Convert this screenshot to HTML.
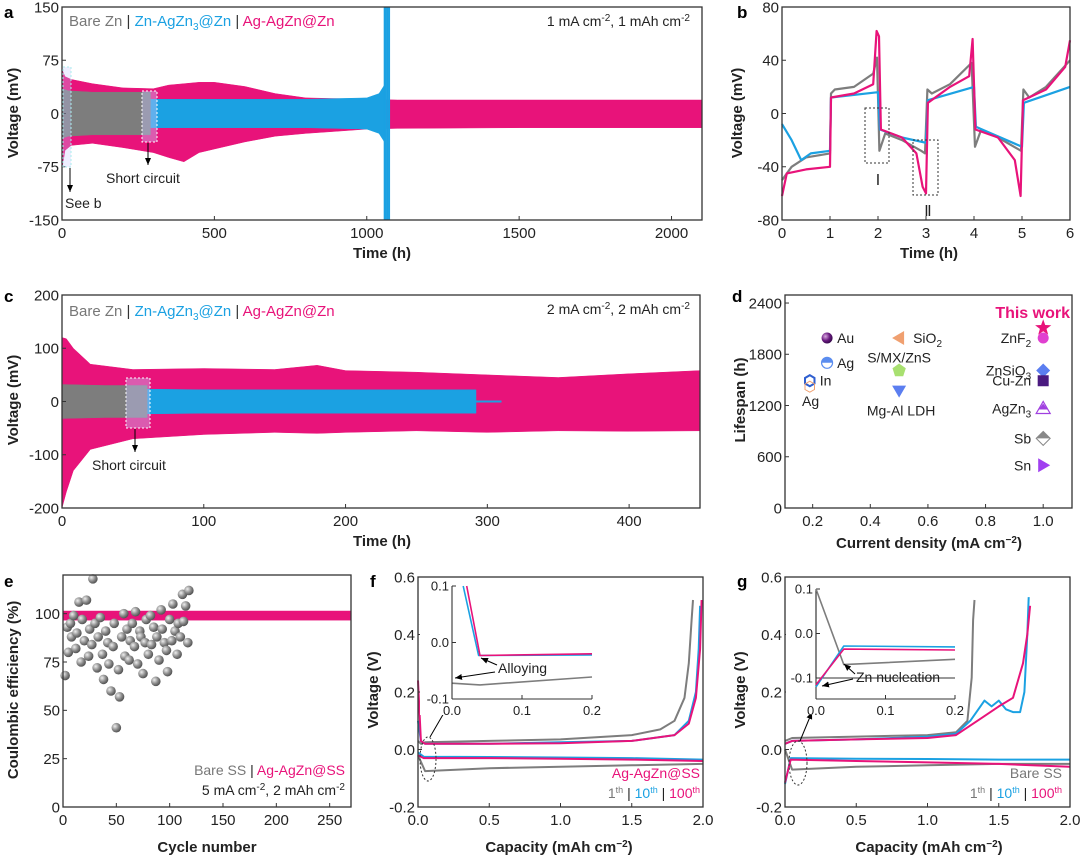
<!DOCTYPE html>
<html><head><meta charset="utf-8"><style>
html,body{margin:0;padding:0;background:#fff;}
svg{display:block;font-family:"Liberation Sans",Arial,sans-serif;}
</style></head><body>
<svg id="fig" width="1080" height="859" viewBox="0 0 1080 859" xmlns="http://www.w3.org/2000/svg">
<defs>
<radialGradient id="sph" cx="35%" cy="35%" r="65%"><stop offset="0" stop-color="#eee"/><stop offset="0.6" stop-color="#8a8a8a"/><stop offset="1" stop-color="#555"/></radialGradient>
<radialGradient id="sphp" cx="35%" cy="35%" r="65%"><stop offset="0" stop-color="#d9a8e0"/><stop offset="0.6" stop-color="#6a1a80"/><stop offset="1" stop-color="#3a0a50"/></radialGradient>
<marker id="arr" markerWidth="8" markerHeight="8" refX="7" refY="4" orient="auto"><path d="M0,1 L7,4 L0,7 Z" fill="#000"/></marker>
</defs>
</svg>
<script>
// ---------- DATA ----------
const aPink_t=[0,10,30,100,200,300,350,400,450,500,600,700,800,900,1000,1100,1500,2100];
const aPink_up=[62,52,48,42,36,35,40,42,44,44,38,28,22,21,20,19,19,19];
const aPink_lo=[-78,-52,-45,-42,-48,-55,-62,-68,-55,-50,-40,-32,-28,-25,-22,-21,-20,-20];
const aBlue_t=[0,200,400,600,800,1000,1040,1058];
const aBlue_up=[20,20,20,20,20,22,28,40];
const aBlue_lo=[-20,-20,-20,-20,-20,-22,-28,-40];
const aSpike_t=[1058,1062,1066,1070,1074];
const aSpike_v=[150,150,150,150,150];
const aGray_t=[0,20,100,200,290];
const aGray_up=[35,32,30,30,30];
const aGray_lo=[-35,-32,-30,-30,-30];
const bPink_t=[0,0.1,0.5,1,1.02,1.5,1.9,1.97,2.02,2.06,2.5,2.8,2.93,3,3.04,3.5,3.9,3.97,4.03,4.5,4.85,4.97,5.02,5.5,5.9,6];
const bPink_v=[-62,-45,-42,-40,12,15,22,62,58,-12,-18,-30,-55,-60,8,20,28,56,-12,-18,-35,-62,10,18,35,55];
const bGray_t=[0,0.2,0.5,1,1.02,1.1,1.5,1.9,1.98,2.03,2.15,2.5,2.9,2.98,3.03,3.12,3.5,3.95,4.02,4.15,4.5,4.98,5.03,5.15,5.5,6];
const bGray_v=[-50,-40,-33,-30,15,18,20,30,42,-28,-15,-20,-28,-30,18,15,22,38,-25,-12,-18,-28,18,12,20,40];
const bBlue_t=[0,0.2,0.4,0.6,1,1.02,2,2.04,2.5,3,3.04,4,4.04,5,5.04,6];
const bBlue_v=[-8,-20,-35,-30,-28,12,16,-12,-18,-22,10,20,-10,-25,8,20];
const cPink_t=[0,3,8,20,50,100,150,180,200,250,300,350,400,450];
const cPink_up=[120,118,100,70,60,62,60,68,58,55,50,45,52,58];
const cPink_lo=[-200,-170,-130,-90,-70,-62,-58,-60,-58,-55,-58,-55,-56,-55];
const cBlue_t=[0,100,200,292];
const cBlue_up=[25,22,22,22];
const cBlue_lo=[-25,-22,-22,-22];
const cBlueTail_t=[292,310];
const cBlueTail_v=[0,0];
const cGray_t=[0,30,60];
const cGray_up=[32,30,30];
const cGray_lo=[-32,-30,-30];
const dNames=["Au","Ag","In","SiO2","S/MX/ZnS","Mg-Al LDH","This work","ZnF2","ZnSiO3","Cu-Zn","AgZn3","Sb","Sn"];
const dCurrent=[0.25,0.25,0.19,0.5,0.5,0.5,1.0,1.0,1.0,1.0,1.0,1.0,1.0];
const dLife=[1990,1700,1490,1990,1610,1375,2110,1990,1610,1490,1165,815,500];
const eBare_x=[2,4,5,7,8,10,12,13,15,17,18,20,22,24,25,27,28,30,32,33,35,37,38,40,42,43,45,47,48,50,52,53,55,57,58,60,62,63,65,67,68,70,72,73,75,77,78,80,82,83,85,87,88,90,92,93,95,97,98,100,102,103,105,107,108,110,112,113,115,117,118];
const eBare_y=[68,93,80,95,88,99,82,90,106,75,97,86,107,78,92,84,118,95,72,88,98,79,66,91,85,74,60,83,95,41,71,57,88,100,78,92,76,86,95,83,101,74,91,88,69,85,97,79,99,84,93,65,88,76,102,92,85,81,70,97,86,105,91,79,95,88,110,96,104,85,112];
const eAg_x=[0,50,100,150,200,270];
const eAg_y=[99,99.3,99.4,99.3,99.2,99.2];
const fGrayC_x=[0,0.02,0.05,0.5,1.0,1.5,1.7,1.8,1.87,1.9,1.92,1.93];
const fGrayC_y=[0.03,0.02,0.025,0.03,0.035,0.05,0.07,0.1,0.18,0.3,0.45,0.52];
const fBlueC_x=[0,0.02,0.05,0.5,1,1.5,1.8,1.9,1.95,1.97,1.98];
const fBlueC_y=[0.1,0.03,0.02,0.02,0.025,0.03,0.05,0.1,0.2,0.35,0.5];
const fPinkC_x=[0,0.02,0.05,0.5,1,1.5,1.8,1.9,1.95,1.98,1.99];
const fPinkC_y=[0.24,0.03,0.02,0.02,0.022,0.03,0.05,0.09,0.18,0.35,0.52];
const fGrayD_x=[0,0.05,0.5,1,1.5,2];
const fGrayD_y=[-0.02,-0.075,-0.065,-0.06,-0.055,-0.05];
const fBlueD_x=[0,0.04,0.5,1,1.5,2];
const fBlueD_y=[-0.01,-0.025,-0.026,-0.028,-0.03,-0.035];
const fPinkD_x=[0,0.04,0.5,1,1.5,2];
const fPinkD_y=[-0.02,-0.03,-0.03,-0.032,-0.035,-0.04];
const fiPink_x=[0.021,0.04,0.2];
const fiPink_y=[0.1,-0.023,-0.02];
const fiBlue_x=[0.016,0.038,0.2];
const fiBlue_y=[0.1,-0.023,-0.022];
const fiGray_x=[0,0.04,0.2];
const fiGray_y=[-0.072,-0.075,-0.061];
const gGrayC_x=[0,0.05,0.5,1.0,1.2,1.28,1.31,1.32,1.33];
const gGrayC_y=[0.03,0.04,0.045,0.05,0.06,0.1,0.25,0.45,0.52];
const gBlueC_x=[0,0.05,0.5,1.0,1.2,1.3,1.4,1.45,1.5,1.55,1.6,1.65,1.68,1.7,1.71];
const gBlueC_y=[0.02,0.03,0.035,0.045,0.055,0.1,0.17,0.15,0.17,0.14,0.13,0.13,0.2,0.4,0.53];
const gPinkC_x=[0,0.05,0.5,1.0,1.2,1.35,1.5,1.6,1.67,1.7,1.72];
const gPinkC_y=[0.02,0.03,0.035,0.04,0.05,0.1,0.15,0.18,0.3,0.4,0.5];
const gGrayD_x=[0,0.05,0.5,1,1.5,2];
const gGrayD_y=[0.0,-0.07,-0.06,-0.055,-0.05,-0.05];
const gBlueD_x=[0,0.04,0.5,1,1.5,2];
const gBlueD_y=[-0.12,-0.03,-0.032,-0.033,-0.035,-0.035];
const gPinkD_x=[0,0.04,0.5,1,1.5,2];
const gPinkD_y=[-0.115,-0.035,-0.04,-0.045,-0.05,-0.06];
const giGray_x=[0,0.04,0.2];
const giGray_y=[0.1,-0.07,-0.058];
const giBlue_x=[0,0.04,0.2];
const giBlue_y=[-0.12,-0.028,-0.03];
const giPink_x=[0,0.04,0.2];
const giPink_y=[-0.115,-0.035,-0.037];

// ---------- helpers ----------
const NS='http://www.w3.org/2000/svg';
const svg=document.getElementById('fig');
const PINK='#e8137a',BLUE='#1ba1e2',GRAY='#7d7d7d';
function mk(tag,attrs,nm,parent){
  const e=document.createElementNS(NS,tag);
  for(const k in attrs)e.setAttribute(k,attrs[k]);
  
  
  (parent||svg).appendChild(e);return e;
}
function txt(x,y,s,nm,o){
  o=o||{};
  const e=mk('text',{x:x,y:y,'font-size':o.fs||15,fill:o.fill||'#222','text-anchor':o.anchor||'start','font-weight':o.fw||'normal'},nm);
  if(o.rot)e.setAttribute('transform','rotate(-90 '+x+' '+y+')');
  e.innerHTML=s;return e;
}
function panel(x0,x1,y0,y1,xd,yd){
  return {x0,x1,y0,y1,sx:v=>x0+(v-xd[0])/(xd[1]-xd[0])*(x1-x0),sy:v=>y1-(v-yd[0])/(yd[1]-yd[0])*(y1-y0)};
}
function frame(p,xt,yt,xf,yf,nm,opt){
  opt=opt||{};
  const g=mk('g',{},nm+'-axes');
  if(!opt.open) mk('rect',{x:p.x0,y:p.y0,width:p.x1-p.x0,height:p.y1-p.y0,fill:'none',stroke:'#333','stroke-width':1.3},nm+'-frame',g);
  else{
    mk('line',{x1:p.x0,y1:p.y0,x2:p.x0,y2:p.y1,stroke:'#333','stroke-width':1.1},nm+'-y-axis-line',g);
    mk('line',{x1:p.x0,y1:p.y1,x2:p.x1,y2:p.y1,stroke:'#333','stroke-width':1.1},nm+'-x-axis-line',g);
  }
  const fs=opt.fs||15;
  xt.forEach(v=>{const x=p.sx(v);
    mk('line',{x1:x,y1:p.y1,x2:x,y2:p.y1-4,stroke:'#333'},nm+'-x-tick',g);
    txt(x,p.y1+fs+3,xf(v),nm+'-x-tick-label',{anchor:'middle',fs:fs});});
  yt.forEach(v=>{const y=p.sy(v);
    mk('line',{x1:p.x0,y1:y,x2:p.x0+4,y2:y,stroke:'#333'},nm+'-y-tick',g);
    txt(p.x0-3,y+fs*0.35,yf(v),nm+'-y-tick-label',{anchor:'end',fs:fs});});
}
function line(p,xs,ys,c,w,nm){
  const d=xs.map((x,i)=>(i?'L':'M')+p.sx(x).toFixed(1)+','+p.sy(ys[i]).toFixed(1)).join('');
  return mk('path',{d:d,fill:'none',stroke:c,'stroke-width':w,'stroke-linejoin':'round'},nm);
}
function env(p,t,up,lo,c,nm){
  let d=t.map((x,i)=>(i?'L':'M')+p.sx(x).toFixed(1)+','+p.sy(up[i]).toFixed(1)).join('');
  for(let i=t.length-1;i>=0;i--)d+='L'+p.sx(t[i]).toFixed(1)+','+p.sy(lo[i]).toFixed(1);
  return mk('path',{d:d+'Z',fill:c,stroke:c,'stroke-width':0.5},nm);
}
const I=v=>String(v), F1=v=>v.toFixed(1);
const LEG='<tspan fill="#777">Bare Zn</tspan><tspan fill="#333"> | </tspan><tspan fill="'+BLUE+'">Zn-AgZn<tspan font-size="10" dy="4">3</tspan><tspan dy="-4">@Zn</tspan></tspan><tspan fill="#333"> | </tspan><tspan fill="'+PINK+'">Ag-AgZn@Zn</tspan>';

// ---------- panel a ----------
const A=panel(62,702,7,220,[0,2100],[-150,150]);
env(A,aPink_t,aPink_up,aPink_lo,PINK,'ag-agzn-zn-voltage-a');
env(A,aBlue_t,aBlue_up,aBlue_lo,BLUE,'zn-agzn3-zn-voltage-a');
aSpike_t.forEach((t,i)=>{
  mk('line',{x1:A.sx(t),y1:A.sy(aSpike_v[i]),x2:A.sx(t),y2:A.sy(-aSpike_v[i]),stroke:BLUE,'stroke-width':1.5},'zn-agzn3-failure-spike');
});
env(A,aGray_t,aGray_up,aGray_lo,GRAY,'bare-zn-voltage-a');
frame(A,[0,500,1000,1500,2000],[-150,-75,0,75,150],I,I,'panel-a');
mk('rect',{x:63,y:67,width:8,height:100,fill:'rgba(200,200,255,0.3)',stroke:'#aee','stroke-dasharray':'2,2'},'see-b-box');
mk('rect',{x:142,y:91,width:15,height:51,fill:'rgba(200,200,255,0.4)',stroke:'#fff','stroke-dasharray':'2,2'},'short-circuit-box-a');
mk('line',{x1:70,y1:168,x2:70,y2:192,stroke:'#000','marker-end':'url(#arr)'},'see-b-arrow');
mk('line',{x1:148,y1:143,x2:148,y2:165,stroke:'#000','marker-end':'url(#arr)'},'short-circuit-arrow-a');
txt(65,208,'See b','see-b-label',{fs:14});
txt(106,183,'Short circuit','short-circuit-label-a',{fs:14});
txt(69,26,LEG,'legend-a',{fs:15});
txt(690,26,'1 mA cm<tspan font-size="10" dy="-5">-2</tspan><tspan dy="5">, 1 mAh cm</tspan><tspan font-size="10" dy="-5">-2</tspan>','condition-a',{anchor:'end',fs:14});
txt(18,113,'Voltage (mV)','y-axis-title-a',{rot:1,anchor:'middle',fw:'bold',fs:15});
txt(382,258,'Time (h)','x-axis-title-a',{anchor:'middle',fw:'bold',fs:15});
txt(4,18,'a','panel-label-a',{fw:'bold',fs:17,fill:'#000'});

// ---------- panel b ----------
const B=panel(782,1070,7,220,[0,6],[-80,80]);
line(B,bGray_t,bGray_v,GRAY,2.2,'bare-zn-curve-b');
line(B,bBlue_t,bBlue_v,BLUE,2.2,'zn-agzn3-curve-b');
line(B,bPink_t,bPink_v,PINK,2.2,'ag-agzn-curve-b');
frame(B,[0,1,2,3,4,5,6],[-80,-40,0,40,80],I,I,'panel-b');
mk('rect',{x:865,y:108,width:24,height:55,fill:'none',stroke:'#333','stroke-dasharray':'2,2'},'region-i-box');
mk('rect',{x:913,y:140,width:25,height:55,fill:'none',stroke:'#333','stroke-dasharray':'2,2'},'region-ii-box');
txt(878,185,'Ⅰ','region-i-label',{anchor:'middle',fs:15});
txt(928,216,'Ⅱ','region-ii-label',{anchor:'middle',fs:15});
txt(742,113,'Voltage (mV)','y-axis-title-b',{rot:1,anchor:'middle',fw:'bold',fs:15});
txt(929,258,'Time (h)','x-axis-title-b',{anchor:'middle',fw:'bold',fs:15});
txt(737,18,'b','panel-label-b',{fw:'bold',fs:17,fill:'#000'});

// ---------- panel c ----------
const C=panel(62,700,295,508,[0,450],[-200,200]);
env(C,cPink_t,cPink_up,cPink_lo,PINK,'ag-agzn-zn-voltage-c');
env(C,cBlue_t,cBlue_up,cBlue_lo,BLUE,'zn-agzn3-zn-voltage-c');
line(C,cBlueTail_t,cBlueTail_v,BLUE,2,'zn-agzn3-tail-c');
env(C,cGray_t,cGray_up,cGray_lo,GRAY,'bare-zn-voltage-c');
frame(C,[0,100,200,300,400],[-200,-100,0,100,200],I,I,'panel-c');
mk('rect',{x:126,y:378,width:24,height:50,fill:'rgba(200,200,255,0.4)',stroke:'#fff','stroke-dasharray':'2,2'},'short-circuit-box-c');
mk('line',{x1:135,y1:429,x2:135,y2:452,stroke:'#000','marker-end':'url(#arr)'},'short-circuit-arrow-c');
txt(92,470,'Short circuit','short-circuit-label-c',{fs:14});
txt(69,316,LEG,'legend-c',{fs:15});
txt(690,314,'2 mA cm<tspan font-size="10" dy="-5">-2</tspan><tspan dy="5">, 2 mAh cm</tspan><tspan font-size="10" dy="-5">-2</tspan>','condition-c',{anchor:'end',fs:14});
txt(18,400,'Voltage (mV)','y-axis-title-c',{rot:1,anchor:'middle',fw:'bold',fs:15});
txt(382,546,'Time (h)','x-axis-title-c',{anchor:'middle',fw:'bold',fs:15});
txt(4,302,'c','panel-label-c',{fw:'bold',fs:17,fill:'#000'});

// ---------- panel d ----------
const D=panel(785,1072,295,508,[0.104,1.1],[0,2494]);
frame(D,[0.2,0.4,0.6,0.8,1.0],[0,600,1200,1800,2400],F1,I,'panel-d');
const dStyle=[
 ['sphere','url(#sphp)','start',10],['half','#5b8def','start',10],['hex','#2f5fd0','start',10],
 ['triL','#f0a070','start',14],['pent','#a8e070','middle',-8],['triD','#5b7ef0','middle',18],
 ['star',PINK,'end',-12],['circle','#e040d0','end',-12],['diamond','#5b7ef0','end',-12],
 ['square','#4a1a80','end',-12],['triU','#a040e0','end',-12],['diamondG','#888','end',-12],['triR','#a040f0','end',-12]];
const dLabels=['Au','Ag','In','SiO<tspan font-size="10" dy="4">2</tspan>','S/MX/ZnS','Mg-Al LDH','','ZnF<tspan font-size="10" dy="4">2</tspan>','ZnSiO<tspan font-size="10" dy="4">3</tspan>','Cu-Zn','AgZn<tspan font-size="10" dy="4">3</tspan>','Sb','Sn'];
dNames.forEach((n,i)=>{
  const x=D.sx(dCurrent[i]),y=D.sy(dLife[i]),s=dStyle[i],c=s[1];
  const nm='marker-'+n.toLowerCase().replace(/[^a-z0-9]+/g,'-');
  if(s[0]==='sphere'||s[0]==='circle') mk('circle',{cx:x,cy:y,r:5.5,fill:c},nm);
  else if(s[0]==='half'){mk('circle',{cx:x,cy:y,r:5.5,fill:'#fff',stroke:c,'stroke-width':1.2},nm);mk('path',{d:`M${x-5.5},${y}A5.5,5.5 0 0 1 ${x+5.5},${y}Z`,fill:c},nm+'-fill');}
  else if(s[0]==='hex'){const pts=[0,1,2,3,4,5].map(k=>(x+5.5*Math.cos(Math.PI/6+k*Math.PI/3)).toFixed(1)+','+(y+5.5*Math.sin(Math.PI/6+k*Math.PI/3)).toFixed(1)).join(' ');mk('polygon',{points:pts,fill:'none',stroke:c,'stroke-width':2},nm);
    const pts2=[0,1,2,3,4,5].map(k=>(x+5.5*Math.cos(Math.PI/6+k*Math.PI/3)).toFixed(1)+','+(y+6+5.5*Math.sin(Math.PI/6+k*Math.PI/3)).toFixed(1)).join(' ');mk('polygon',{points:pts2,fill:'none',stroke:'#f0a070','stroke-width':1},'marker-ag-hex');}
  else if(s[0]==='triL') mk('polygon',{points:`${x-7},${y} ${x+5},${y-7} ${x+5},${y+7}`,fill:c},nm);
  else if(s[0]==='triR') mk('polygon',{points:`${x+7},${y} ${x-5},${y-7} ${x-5},${y+7}`,fill:c},nm);
  else if(s[0]==='triD') mk('polygon',{points:`${x-7},${y-5} ${x+7},${y-5} ${x},${y+7}`,fill:c},nm);
  else if(s[0]==='triU'){mk('polygon',{points:`${x-7},${y+5} ${x+7},${y+5} ${x},${y-7}`,fill:'#fff',stroke:c,'stroke-width':1.2},nm);mk('polygon',{points:`${x-4.5},${y+1} ${x+4.5},${y+1} ${x},${y-5}`,fill:c},nm+'-fill');}
  else if(s[0]==='pent'){const pts=[0,1,2,3,4].map(k=>(x+7*Math.cos(-Math.PI/2+k*2*Math.PI/5)).toFixed(1)+','+(y+7*Math.sin(-Math.PI/2+k*2*Math.PI/5)).toFixed(1)).join(' ');mk('polygon',{points:pts,fill:c},nm);}
  else if(s[0]==='star'){const pts=[];for(let k=0;k<10;k++){const r=k%2?3.5:8.5,a=-Math.PI/2+k*Math.PI/5;pts.push((x+r*Math.cos(a)).toFixed(1)+','+(y+r*Math.sin(a)).toFixed(1));}mk('polygon',{points:pts.join(' '),fill:c},nm);}
  else if(s[0]==='diamond') mk('polygon',{points:`${x},${y-7} ${x+7},${y} ${x},${y+7} ${x-7},${y}`,fill:c},nm);
  else if(s[0]==='diamondG'){mk('polygon',{points:`${x},${y-7} ${x+7},${y} ${x},${y+7} ${x-7},${y}`,fill:'#fff',stroke:c},nm);mk('polygon',{points:`${x},${y-7} ${x+7},${y} ${x-7},${y}`,fill:c},nm+'-fill');}
  else if(s[0]==='square') mk('rect',{x:x-5.5,y:y-5.5,width:11,height:11,fill:c},nm);
  if(dLabels[i]){
    let lx=x+s[3],ly=y+5;
    if(s[0]==='pent'){lx=x;ly=y-8;} if(s[0]==='triD'){lx=x+2;ly=y+25;}
    txt(lx,ly,dLabels[i],'label-'+nm.slice(7),{anchor:s[2],fs:14});
  }
});
txt(802,406,'Ag','label-ag-hexagon',{fs:14});
txt(1070,318,'This work','this-work-label',{anchor:'end',fw:'bold',fs:16,fill:PINK});
txt(745,400,'Lifespan (h)','y-axis-title-d',{rot:1,anchor:'middle',fw:'bold',fs:15});
txt(929,548,'Current density (mA cm<tspan font-size="10" dy="-5">−2</tspan><tspan dy="5">)</tspan>','x-axis-title-d',{anchor:'middle',fw:'bold',fs:15});
txt(732,302,'d','panel-label-d',{fw:'bold',fs:17,fill:'#000'});

// ---------- panel e ----------
const E=panel(63,351,575,807,[0,270],[0,120]);
mk('rect',{x:E.sx(0),y:E.sy(101.5),width:E.sx(270)-E.sx(0),height:E.sy(96.5)-E.sy(101.5),fill:PINK},'ag-agzn-ss-band');
line(E,eAg_x,eAg_y,PINK,3,'ag-agzn-ss-ce');
eBare_x.forEach((x,i)=>{
  mk('circle',{cx:E.sx(x),cy:E.sy(eBare_y[i]),r:4.8,fill:'url(#sph)'},'bare-ss-ce-point');
});
frame(E,[0,50,100,150,200,250],[0,25,50,75,100],I,I,'panel-e');
txt(345,775,'<tspan fill="#777">Bare SS</tspan> | <tspan fill="'+PINK+'">Ag-AgZn@SS</tspan>','legend-e',{anchor:'end',fs:14});
txt(345,795,'5 mA cm<tspan font-size="10" dy="-5">-2</tspan><tspan dy="5">, 2 mAh cm</tspan><tspan font-size="10" dy="-5">-2</tspan>','condition-e',{anchor:'end',fs:14});
txt(18,690,'Coulombic efficiency (%)','y-axis-title-e',{rot:1,anchor:'middle',fw:'bold',fs:15});
txt(207,852,'Cycle number','x-axis-title-e',{anchor:'middle',fw:'bold',fs:15});
txt(4,587,'e','panel-label-e',{fw:'bold',fs:17,fill:'#000'});

// ---------- panel f ----------
const Fp=panel(418,703,577,807,[0,2],[-0.2,0.6]);
line(Fp,fGrayD_x,fGrayD_y,GRAY,2,'bare-discharge-f');
line(Fp,fBlueD_x,fBlueD_y,BLUE,2,'10th-discharge-f');
line(Fp,fPinkD_x,fPinkD_y,PINK,2,'100th-discharge-f');
line(Fp,fGrayC_x,fGrayC_y,GRAY,2,'1th-charge-f');
line(Fp,fBlueC_x,fBlueC_y,BLUE,2,'10th-charge-f');
line(Fp,fPinkC_x,fPinkC_y,PINK,2,'100th-charge-f');
frame(Fp,[0,0.5,1,1.5,2],[-0.2,0,0.2,0.4,0.6],F1,F1,'panel-f');
mk('ellipse',{cx:428,cy:759,rx:8,ry:22,fill:'none',stroke:'#333','stroke-dasharray':'2,2'},'zoom-ellipse-f');
mk('line',{x1:430,y1:737,x2:448,y2:706,stroke:'#000','marker-end':'url(#arr)'},'zoom-arrow-f');
const FI=panel(452,592,586,699,[0,0.2],[-0.1,0.1]);
mk('rect',{x:420,y:580,width:175,height:135,fill:'#fff'},'inset-bg-f');
line(FI,fiGray_x,fiGray_y,GRAY,1.6,'inset-1th-f');
line(FI,fiBlue_x,fiBlue_y,BLUE,1.6,'inset-10th-f');
line(FI,fiPink_x,fiPink_y,PINK,1.6,'inset-100th-f');
frame(FI,[0,0.1,0.2],[-0.1,0,0.1],F1,F1,'inset-f',{open:1,fs:13});
txt(498,673,'Alloying','alloying-label',{fs:14});
mk('line',{x1:497,y1:665,x2:481,y2:658,stroke:'#000','marker-end':'url(#arr)'},'alloying-arrow-1');
mk('line',{x1:495,y1:672,x2:455,y2:678,stroke:'#000','marker-end':'url(#arr)'},'alloying-arrow-2');
txt(700,778,'Ag-AgZn@SS','sample-label-f',{anchor:'end',fs:14,fill:PINK});
txt(700,798,'<tspan fill="#777">1<tspan font-size="9" dy="-5">th</tspan></tspan><tspan dy="5"> | </tspan><tspan fill="'+BLUE+'">10<tspan font-size="9" dy="-5">th</tspan></tspan><tspan dy="5"> | </tspan><tspan fill="'+PINK+'">100<tspan font-size="9" dy="-5">th</tspan></tspan>','cycle-legend-f',{anchor:'end',fs:14});
txt(378,690,'Voltage (V)','y-axis-title-f',{rot:1,anchor:'middle',fw:'bold',fs:15});
txt(559,852,'Capacity (mAh cm<tspan font-size="10" dy="-5">−2</tspan><tspan dy="5">)</tspan>','x-axis-title-f',{anchor:'middle',fw:'bold',fs:15});
txt(370,587,'f','panel-label-f',{fw:'bold',fs:17,fill:'#000'});

// ---------- panel g ----------
const G=panel(785,1070,577,807,[0,2],[-0.2,0.6]);
line(G,gGrayD_x,gGrayD_y,GRAY,2,'bare-discharge-g');
line(G,gBlueD_x,gBlueD_y,BLUE,2,'10th-discharge-g');
line(G,gPinkD_x,gPinkD_y,PINK,2,'100th-discharge-g');
line(G,gGrayC_x,gGrayC_y,GRAY,2,'1th-charge-g');
line(G,gBlueC_x,gBlueC_y,BLUE,2,'10th-charge-g');
line(G,gPinkC_x,gPinkC_y,PINK,2,'100th-charge-g');
frame(G,[0,0.5,1,1.5,2],[-0.2,0,0.2,0.4,0.6],F1,F1,'panel-g');
mk('ellipse',{cx:798,cy:763,rx:9,ry:22,fill:'none',stroke:'#333','stroke-dasharray':'2,2'},'zoom-ellipse-g');
mk('line',{x1:800,y1:741,x2:812,y2:712,stroke:'#000','marker-end':'url(#arr)'},'zoom-arrow-g');
const GI=panel(816,955,589,678,[0,0.2],[-0.1,0.1]);
mk('rect',{x:786,y:580,width:172,height:135,fill:'#fff'},'inset-bg-g');
frame(panel(816,955,589,699,[0,0.2],[-0.148,0.1]),[0,0.1,0.2],[],F1,F1,'inset-g-x',{open:1,fs:13});
frame(GI,[],[-0.1,0,0.1],F1,F1,'inset-g-y',{open:1,fs:13});
line(GI,giGray_x,giGray_y,GRAY,1.6,'inset-1th-g');
line(GI,giBlue_x,giBlue_y,BLUE,1.6,'inset-10th-g');
line(GI,giPink_x,giPink_y,PINK,1.6,'inset-100th-g');
txt(856,682,'Zn nucleation','zn-nucleation-label',{fs:14});
mk('line',{x1:855,y1:674,x2:844,y2:664,stroke:'#000','marker-end':'url(#arr)'},'nucleation-arrow-1');
mk('line',{x1:853,y1:679,x2:822,y2:686,stroke:'#000','marker-end':'url(#arr)'},'nucleation-arrow-2');
txt(1062,778,'Bare SS','sample-label-g',{anchor:'end',fs:14,fill:'#777'});
txt(1062,798,'<tspan fill="#777">1<tspan font-size="9" dy="-5">th</tspan></tspan><tspan dy="5"> | </tspan><tspan fill="'+BLUE+'">10<tspan font-size="9" dy="-5">th</tspan></tspan><tspan dy="5"> | </tspan><tspan fill="'+PINK+'">100<tspan font-size="9" dy="-5">th</tspan></tspan>','cycle-legend-g',{anchor:'end',fs:14});
txt(745,690,'Voltage (V)','y-axis-title-g',{rot:1,anchor:'middle',fw:'bold',fs:15});
txt(929,852,'Capacity (mAh cm<tspan font-size="10" dy="-5">−2</tspan><tspan dy="5">)</tspan>','x-axis-title-g',{anchor:'middle',fw:'bold',fs:15});
txt(737,587,'g','panel-label-g',{fw:'bold',fs:17,fill:'#000'});
</script>
</body></html>
